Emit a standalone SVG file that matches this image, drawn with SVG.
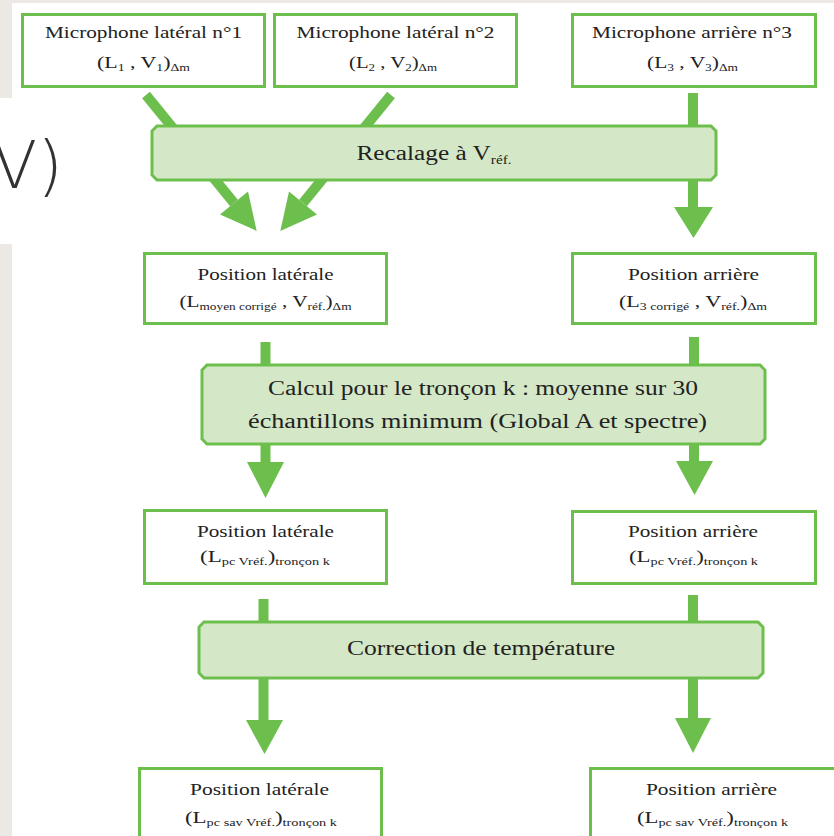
<svg xmlns="http://www.w3.org/2000/svg" width="834" height="836" viewBox="0 0 834 836">
<style>
.bg{fill:#ece8e4}
.box{fill:#ffffff;stroke:#6cbf4c;stroke-width:3}
.proc{fill:#d4e8c7;stroke:#6cbf4c;stroke-width:3}
.shaft{stroke:#6cbf4c;stroke-width:10;fill:none}
.head{fill:#6cbf4c}
text{font-family:"Liberation Serif","Times New Roman",serif;fill:#222;text-anchor:middle}
.t1{font-size:16px}
.t2{font-size:16px}
.big{font-size:20px}
.sub{font-size:10px}
.big .sub{font-size:12px}
</style>
<rect width="834" height="836" fill="#ffffff"/>
<rect class="bg" x="0" y="0" width="834" height="3"/>
<rect class="bg" x="0" y="0" width="12" height="98"/>
<rect class="bg" x="0" y="244" width="12" height="592"/>
<text x="-8" y="188" style="font-family:'DejaVu Sans',sans-serif;font-weight:200;font-size:66px;fill:#333;text-anchor:start">V)</text>

<g id="connectors">
<line class="shaft" x1="146" y1="95" x2="234" y2="203"/>
<polygon class="head" points="256.7,230.9 220,214.4 248,191.6"/>
<line class="shaft" x1="391" y1="95" x2="303" y2="203"/>
<polygon class="head" points="280.3,230.9 317,214.4 289,191.6"/>
<line class="shaft" x1="693" y1="93" x2="693" y2="209"/>
<polygon class="head" points="674,207 713,207 693.5,238"/>
<line class="shaft" x1="265.5" y1="342" x2="265.5" y2="464"/>
<polygon class="head" points="247,462 284,462 265.5,498"/>
<line class="shaft" x1="694" y1="337" x2="694" y2="463"/>
<polygon class="head" points="676,461 713,461 694.5,495"/>
<line class="shaft" x1="263.5" y1="599" x2="263.5" y2="722"/>
<polygon class="head" points="246,720 283,720 264.5,754"/>
<line class="shaft" x1="693" y1="595" x2="693" y2="720"/>
<polygon class="head" points="675,718 711,718 693,753"/>
</g>

<g id="mic1">
<rect class="box" x="22.5" y="14.5" width="242" height="72"/>
<text class="t1" x="143.5" y="38" textLength="197" lengthAdjust="spacingAndGlyphs">Microphone latéral n°1</text>
<text class="t2" x="143.5" y="68" textLength="93" lengthAdjust="spacingAndGlyphs">(L<tspan class="sub" dy="3">1</tspan><tspan dy="-3"> , V</tspan><tspan class="sub" dy="3">1</tspan><tspan dy="-3">)</tspan><tspan class="sub" dy="3">Δm</tspan></text>
</g>
<g id="mic2">
<rect class="box" x="274.5" y="14.5" width="242" height="72"/>
<text class="t1" x="395.5" y="38" textLength="198" lengthAdjust="spacingAndGlyphs">Microphone latéral n°2</text>
<text class="t2" x="393" y="68" textLength="88" lengthAdjust="spacingAndGlyphs">(L<tspan class="sub" dy="3">2</tspan><tspan dy="-3"> , V</tspan><tspan class="sub" dy="3">2</tspan><tspan dy="-3">)</tspan><tspan class="sub" dy="3">Δm</tspan></text>
</g>
<g id="mic3">
<rect class="box" x="572.5" y="14.5" width="243" height="72"/>
<text class="t1" x="692" y="38" textLength="200" lengthAdjust="spacingAndGlyphs">Microphone arrière n°3</text>
<text class="t2" x="692.5" y="68" textLength="91" lengthAdjust="spacingAndGlyphs">(L<tspan class="sub" dy="3">3</tspan><tspan dy="-3"> , V</tspan><tspan class="sub" dy="3">3</tspan><tspan dy="-3">)</tspan><tspan class="sub" dy="3">Δm</tspan></text>
</g>

<g id="recalage">
<path class="proc" d="M157,126 H711 L716,131 V175 L711,180 H157 L152,175 V131 Z"/>
<text class="big" x="434" y="160" textLength="155" lengthAdjust="spacingAndGlyphs">Recalage à V<tspan class="sub" dy="4">réf.</tspan></text>
</g>

<g id="poslat1">
<rect class="box" x="144.5" y="253.5" width="242" height="70"/>
<text class="t1" x="265.5" y="280" textLength="136" lengthAdjust="spacingAndGlyphs">Position latérale</text>
<text class="t2" x="265.5" y="307" textLength="172" lengthAdjust="spacingAndGlyphs">(L<tspan class="sub" dy="3">moyen corrigé</tspan><tspan dy="-3"> , V</tspan><tspan class="sub" dy="3">réf.</tspan><tspan dy="-3">)</tspan><tspan class="sub" dy="3">Δm</tspan></text>
</g>
<g id="posarr1">
<rect class="box" x="572.5" y="253.5" width="243" height="70"/>
<text class="t1" x="693.5" y="280" textLength="131" lengthAdjust="spacingAndGlyphs">Position arrière</text>
<text class="t2" x="693" y="307" textLength="148" lengthAdjust="spacingAndGlyphs">(L<tspan class="sub" dy="3">3 corrigé</tspan><tspan dy="-3"> , V</tspan><tspan class="sub" dy="3">réf.</tspan><tspan dy="-3">)</tspan><tspan class="sub" dy="3">Δm</tspan></text>
</g>

<g id="calcul">
<path class="proc" d="M207,365 H760 L765,370 V439 L760,444 H207 L202,439 V370 Z"/>
<text class="big" x="483" y="395" textLength="430" lengthAdjust="spacingAndGlyphs">Calcul pour le tronçon k : moyenne sur 30</text>
<text class="big" x="477.5" y="428" textLength="459" lengthAdjust="spacingAndGlyphs">échantillons minimum (Global A et spectre)</text>
</g>

<g id="poslat2">
<rect class="box" x="144.5" y="510.5" width="242" height="73"/>
<text class="t1" x="265.5" y="537" textLength="137" lengthAdjust="spacingAndGlyphs">Position latérale</text>
<text class="t2" x="265" y="562" textLength="130" lengthAdjust="spacingAndGlyphs">(L<tspan class="sub" dy="3">pc Vréf.</tspan><tspan dy="-3">)</tspan><tspan class="sub" dy="3">tronçon  k</tspan></text>
</g>
<g id="posarr2">
<rect class="box" x="572.5" y="511.5" width="243" height="72"/>
<text class="t1" x="693" y="537" textLength="130" lengthAdjust="spacingAndGlyphs">Position arrière</text>
<text class="t2" x="693.5" y="562" textLength="129" lengthAdjust="spacingAndGlyphs">(L<tspan class="sub" dy="3">pc Vréf.</tspan><tspan dy="-3">)</tspan><tspan class="sub" dy="3">tronçon  k</tspan></text>
</g>

<g id="correction">
<path class="proc" d="M204,622 H758 L763,627 V673 L758,678 H204 L199,673 V627 Z"/>
<text class="big" x="481" y="655" textLength="268" lengthAdjust="spacingAndGlyphs">Correction de température</text>
</g>

<g id="poslat3">
<rect class="box" x="139.5" y="768.5" width="242" height="80"/>
<text class="t1" x="259.5" y="795" textLength="139" lengthAdjust="spacingAndGlyphs">Position latérale</text>
<text class="t2" x="261" y="823" textLength="152" lengthAdjust="spacingAndGlyphs">(L<tspan class="sub" dy="3">pc sav Vréf.</tspan><tspan dy="-3">)</tspan><tspan class="sub" dy="3">tronçon  k</tspan></text>
</g>
<g id="posarr3">
<rect class="box" x="590.5" y="768.5" width="250" height="80"/>
<text class="t1" x="711.5" y="795" textLength="131" lengthAdjust="spacingAndGlyphs">Position arrière</text>
<text class="t2" x="712.5" y="823" textLength="151" lengthAdjust="spacingAndGlyphs">(L<tspan class="sub" dy="3">pc sav Vréf.</tspan><tspan dy="-3">)</tspan><tspan class="sub" dy="3">tronçon  k</tspan></text>
</g>
</svg>
